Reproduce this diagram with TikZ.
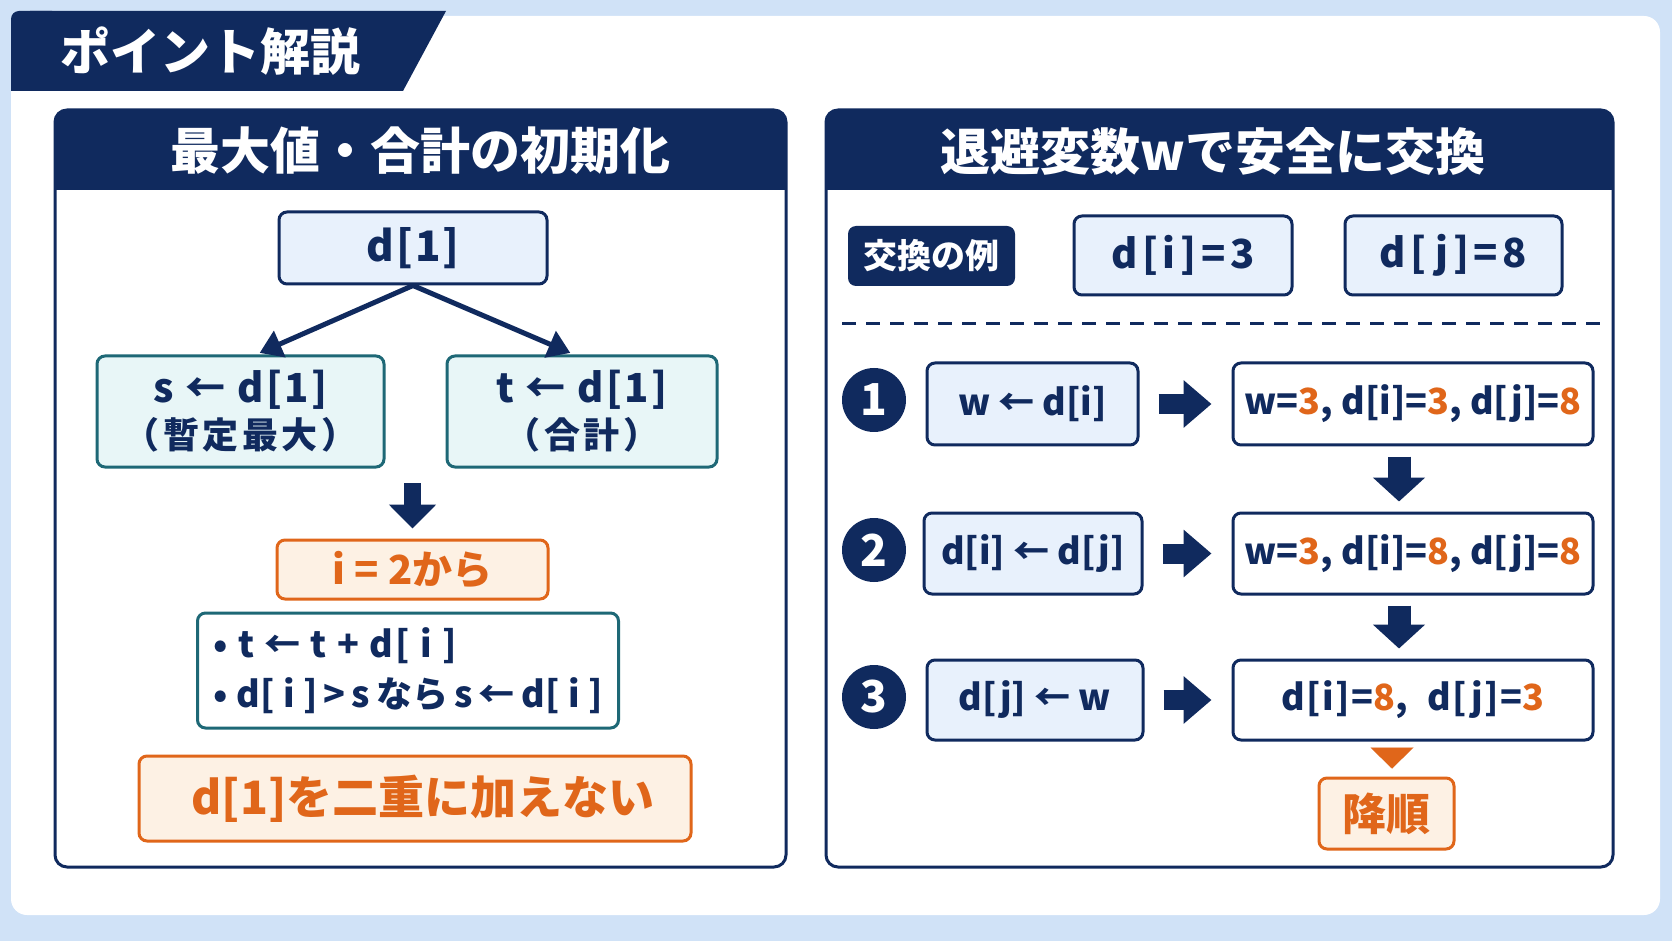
\documentclass[tikz,border=0pt]{standalone}
\usepackage{fontspec}
\setmainfont{Noto Sans CJK JP}
\usetikzlibrary{arrows.meta}
\definecolor{navy}{RGB}{16,42,94}
\definecolor{bgblue}{RGB}{208,226,247}
\definecolor{lblue}{RGB}{232,241,252}
\definecolor{myteal}{RGB}{30,104,118}
\definecolor{ltealfill}{RGB}{232,246,247}
\definecolor{myorange}{RGB}{224,102,26}
\definecolor{lorange}{RGB}{253,241,228}
\newcommand{\fs}[1]{\fontsize{#1}{#1}\selectfont}
\newcommand{\og}[1]{\textcolor{myorange}{#1}}
\newcommand{\lsp}[1]{\addfontfeature{LetterSpace=#1}}
\begin{document}
\begin{tikzpicture}[x=0.5pt,y=-0.5pt,
  ptitle/.style={font=\bfseries\fs{25}, text=white, inner sep=0pt},
  bluebox/.style={draw=navy, line width=1.5pt, rounded corners=4pt, fill=lblue, text=navy, font=\bfseries\fs{20}, align=center, inner sep=0pt},
  whitebox/.style={bluebox, fill=white},
  tealbox/.style={draw=myteal, line width=1.5pt, rounded corners=4pt, fill=ltealfill, text=navy, font=\bfseries\fs{20}, align=center, inner sep=0pt},
  orbox/.style={draw=myorange, line width=1.5pt, rounded corners=4pt, fill=lorange, text=myorange, font=\bfseries\fs{20}, align=center, inner sep=0pt},
  num/.style={circle, fill=navy, text=white, minimum size=32pt, inner sep=0pt, font=\bfseries\fs{22}},
  thinarrow/.style={draw=navy, line width=2.5pt, -{Triangle[width=14pt,length=11pt]}},
  blockr/.style={draw=navy, line width=10pt, -{Triangle[width=23pt,length=14pt]}},
  blockd/.style={draw=navy, line width=11.5pt, -{Triangle[width=25.5pt,length=12pt]}},
  blockdl/.style={draw=navy, line width=8.5pt, -{Triangle[width=23pt,length=12pt]}},
  ortip/.style={draw=myorange, line width=0.01pt, -{Triangle[width=21.5pt,length=10.5pt]}},
]
\fill[bgblue] (0,0) rectangle (1672,941);
\useasboundingbox (0,0) rectangle (1672,941);
\fill[white, rounded corners=8pt] (11,16) rectangle (1660,915);
% banner
\fill[navy, rounded corners=4pt] (11,11) rectangle (60,91);
\fill[navy] (30,11) -- (446,11) -- (403,91) -- (30,91) -- cycle;
\fill[navy] (11,50) rectangle (40,91);
\node[ptitle, anchor=west] (bt) at (60,51) {ポイント解説};

% left panel
\begin{scope}
\clip[rounded corners=6pt] (55,110) rectangle (786,867);
\fill[white] (55,110) rectangle (786,867);
\fill[navy] (55,110) rectangle (786,190);
\end{scope}
\draw[navy, line width=1.5pt, rounded corners=6pt] (55,110) rectangle (786,867);
\node[ptitle] (lt) at (420,151) {最大値・合計の初期化};

\node[bluebox, minimum width=134pt, minimum height=36pt, font=\bfseries\fs{21}\lsp{5}] (d1) at (413,248) {d[1]};
\node[tealbox, minimum width=143.5pt, minimum height=55.5pt, font=\bfseries\fs{20}\lsp{6}] (s) at (240.5,411.5) {s ← d[1]\\[3pt]{\fs{18}\lsp{10}（暫定最大）}};
\node[tealbox, minimum width=135pt, minimum height=55.5pt, font=\bfseries\fs{20}\lsp{6}] (t) at (582,411.5) {t ← d[1]\\[3pt]{\fs{18}\lsp{10}（合計）}};
\draw[thinarrow, shorten >=2pt] (d1.south) -- ([xshift=7.75pt]s.north);
\draw[thinarrow, shorten >=2pt] (d1.south) -- ([xshift=-4pt]t.north);
\coordinate (join) at (412.5,467);
\node[orbox, minimum width=135.5pt, minimum height=29.5pt] (i2) at (412.5,569.5) {i = 2から};
\draw[blockdl, shorten <=8pt, shorten >=5pt] (join) -- (i2.north);
\node[tealbox, fill=white, minimum width=210.5pt, minimum height=57.5pt, align=left, font=\bfseries\fs{18}] (loop) at (408,670.5) {{\lsp{6}• t ← t + d[ i ]}\\[6pt]{\lsp{1}• d[ i ]\,>\,s\,なら\,s\,←\,d[ i ]}};
\node[orbox, minimum width=276pt, minimum height=42.5pt, font=\bfseries\fs{23}] (note) at (415,798.5) {\hspace*{8pt}d[1]を二重に加えない};

% right panel
\begin{scope}
\clip[rounded corners=6pt] (826,110) rectangle (1613,867);
\fill[white] (826,110) rectangle (1613,867);
\fill[navy] (826,110) rectangle (1613,190);
\end{scope}
\draw[navy, line width=1.5pt, rounded corners=6pt] (826,110) rectangle (1613,867);
\node[ptitle] (rt) at (1213,151) {退避変数wで安全に交換};

\node[fill=navy, rounded corners=4pt, text=white, font=\bfseries\fs{17}, minimum width=83.5pt, minimum height=30pt, inner sep=0pt] (ex) at (931.5,256) {交換の例};
\node[bluebox, minimum width=109pt, minimum height=39.5pt, font=\bfseries\fs{20}\lsp{12}] (di) at (1183,255.5) {d[i]=3};
\node[bluebox, minimum width=108.5pt, minimum height=39.5pt, font=\bfseries\fs{20}\lsp{12}] (dj) at (1453.5,255.5) {d[j]=8};
\coordinate (dl) at (842,324);
\coordinate (dr) at (1605,324);
\draw[navy, line width=1.5pt, dash pattern=on 7pt off 5pt] (dl) -- (dr);

\node[num] (c1) at (874,400) {1};
\node[num] (c2) at (874,550) {2};
\node[num] (c3) at (874,697) {3};

\node[bluebox, minimum width=105.5pt, minimum height=41pt, font=\bfseries\fs{18}] (a1) at (1032.5,404) {w ← d[i]};
\node[whitebox, minimum width=180pt, minimum height=41pt, font=\bfseries\fs{18}] (b1) at (1413,404) {w=\og{3}, d[i]=\og{3}, d[j]=\og{8}};
\node[bluebox, minimum width=109pt, minimum height=40.5pt, font=\bfseries\fs{18}] (a2) at (1033,553.5) {d[i] ← d[j]};
\node[whitebox, minimum width=180pt, minimum height=40.5pt, font=\bfseries\fs{18}] (b2) at (1413,553.5) {w=\og{3}, d[i]=\og{8}, d[j]=\og{8}};
\node[bluebox, minimum width=108pt, minimum height=40pt, font=\bfseries\fs{18}] (a3) at (1035,700) {d[j] ← w};
\node[whitebox, minimum width=180pt, minimum height=40pt, font=\bfseries\fs{18}\lsp{4}] (b3) at (1413,700) {d[i]=\og{8},\ \ d[j]=\og{3}};

\draw[blockr, shorten <=9.5pt, shorten >=10pt] (a1.east) -- (b1.west);
\draw[blockr, shorten <=9.5pt, shorten >=10pt] (a2.east) -- (b2.west);
\draw[blockr, shorten <=9.5pt, shorten >=10pt] (a3.east) -- (b3.west);
\draw[blockd, shorten <=5pt, shorten >=5pt] ([xshift=-7pt]b1.south) -- ([xshift=-7pt]b2.north);
\draw[blockd, shorten <=5pt, shorten >=5pt] ([xshift=-7pt]b2.south) -- ([xshift=-7pt]b3.north);

\node[orbox, minimum width=67.5pt, minimum height=35.5pt, font=\bfseries\fs{22}] (desc) at (1386.5,813.5) {降順};
\draw[ortip, shorten <=4.5pt, shorten >=4pt] ([xshift=-10.5pt]b3.south) -- ([xshift=-10.5pt]b3.south |- desc.north);
\end{tikzpicture}
\end{document}
